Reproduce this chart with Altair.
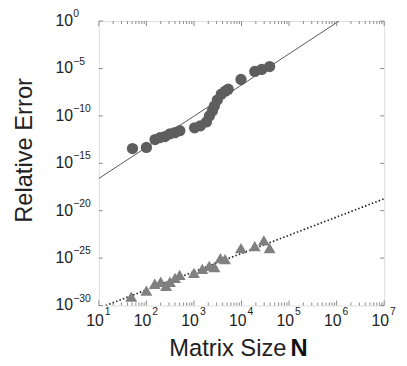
import altair as alt
import pandas as pd

# ---- data ----
circle_N = [51, 100, 152, 194, 246, 313, 397, 504, 1030, 1370, 1830, 2110, 2440, 2690,
            3100, 3750, 4540, 5250, 9750, 19000, 26600, 39000]
circle_err = [3.6e-14, 4.7e-14, 3.2e-13, 5.1e-13, 6.5e-13, 1.3e-12, 1.7e-12, 2.75e-12,
              5.6e-12, 9.1e-12, 2.3e-11, 1.0e-10, 3.3e-10, 1.1e-9, 4.7e-9, 1.95e-8,
              4.0e-8, 6.5e-8, 7.1e-7, 4.9e-6, 7.9e-6, 1.6e-5]
tri_N = [48, 100, 150, 200, 260, 312, 400, 500, 1000, 1500, 2100, 2700, 3600, 4500,
         9750, 19000, 29500, 39000]
tri_err = [8.7e-30, 3.6e-29, 1.95e-28, 3.2e-28, 1.2e-28, 3.2e-28, 8.3e-28, 1.7e-27,
           2.75e-27, 7.1e-27, 1.5e-26, 1.15e-26, 1.0e-25, 7.9e-26, 1.1e-24, 1.8e-24,
           7.4e-24, 1.1e-24]
solid_fit_N = [10, 1.12e6]
solid_fit_err = [2.5e-17, 1.0]
dotted_fit_N = [14, 1e7]
dotted_fit_err = [1e-30, 1.8e-19]

x_tick_vals = [1e1, 1e2, 1e3, 1e4, 1e5, 1e6, 1e7]
x_tick_exps = ["1", "2", "3", "4", "5", "6", "7"]
y_tick_vals = [1.0, 1e-5, 1e-10, 1e-15, 1e-20, 1e-25, 1e-30]
y_tick_exps = ["0", "\u22125", "\u221210", "\u221215", "\u221220", "\u221225", "\u221230"]
x_minor = [k * 10 ** d for d in range(1, 7) for k in range(2, 10)]

W, H = 289, 288
FONT = "Liberation Sans"
xs = alt.Scale(type="log", domain=[10, 1e7], nice=False)
ys = alt.Scale(type="log", domain=[1e-30, 1], nice=False)

pts_c = pd.DataFrame({"N": circle_N, "err": circle_err})
pts_t = pd.DataFrame({"N": tri_N, "err": tri_err})
fit_s = pd.DataFrame({"N": solid_fit_N, "err": solid_fit_err})
fit_d = pd.DataFrame({"N": dotted_fit_N, "err": dotted_fit_err})
xt = pd.DataFrame({"v": x_tick_vals, "e": x_tick_exps})
yt = pd.DataFrame({"v": y_tick_vals, "e": y_tick_exps})
xm = pd.DataFrame({"v": x_minor})

X = lambda f: alt.X(f, type="quantitative", scale=xs, axis=None)
Y_grid = lambda f: alt.Y(f, type="quantitative", scale=ys,
                         axis=alt.Axis(values=y_tick_vals[1:-1], grid=True, labels=False,
                                       ticks=False, domain=False, title=None,
                                       gridColor="#c4c4c4", gridDash=[1, 2], gridWidth=1))
Y = lambda f: alt.Y(f, type="quantitative", scale=ys, axis=None)

solid = alt.Chart(fit_s).mark_line(clip=True, color="#444444", strokeWidth=0.9).encode(
    x=X("N"), y=Y_grid("err"))
dotted = alt.Chart(fit_d).mark_line(clip=True, color="#222222", strokeWidth=1.7,
                                     strokeDash=[1.5, 2.2]).encode(x=X("N"), y=Y("err"))
circles = alt.Chart(pts_c).mark_point(shape="circle", filled=True, size=130, opacity=1,
                                      color="#5e5e5e").encode(x=X("N"), y=Y("err"))
tris = alt.Chart(pts_t).mark_point(shape="triangle-up", filled=True, size=145, opacity=1,
                                   color="#808080").encode(x=X("N"), y=Y("err"))

tick_col = "#888888"
xmaj_b = alt.Chart(xt).mark_rule(color=tick_col).encode(
    x=X("v"), y=alt.value(H), y2=alt.value(H - 5))
xmaj_t = alt.Chart(xt).mark_rule(color=tick_col).encode(
    x=X("v"), y=alt.value(0), y2=alt.value(5))
xmin_b = alt.Chart(xm).mark_rule(color=tick_col).encode(
    x=X("v"), y=alt.value(H), y2=alt.value(H - 3))
xmin_t = alt.Chart(xm).mark_rule(color=tick_col).encode(
    x=X("v"), y=alt.value(0), y2=alt.value(3))
ymaj_l = alt.Chart(yt).mark_rule(color=tick_col).encode(
    y=Y("v"), x=alt.value(0), x2=alt.value(4))
ymaj_r = alt.Chart(yt).mark_rule(color=tick_col).encode(
    y=Y("v"), x=alt.value(W), x2=alt.value(W - 4))

xlab_base = alt.Chart(xt).mark_text(font=FONT, fontSize=16, align="right", baseline="middle",
                                    dx=5, color="#222222").encode(
    x=X("v"), y=alt.value(H + 16), text=alt.value("10"))
xlab_exp = alt.Chart(xt).mark_text(font=FONT, fontSize=10.5, align="left", baseline="middle",
                                   dx=6, color="#222222").encode(
    x=X("v"), y=alt.value(H + 7), text="e:N")
ylab_base = alt.Chart(yt).mark_text(font=FONT, fontSize=16, align="left", baseline="middle",
                                    color="#222222").encode(
    y=Y("v"), x=alt.value(-44), text=alt.value("10"))
ylab_exp = alt.Chart(yt).mark_text(font=FONT, fontSize=10.5, align="left", baseline="middle",
                                   dy=-7, color="#222222").encode(
    y=Y("v"), x=alt.value(-26), text="e:N")

xtitle = alt.Chart(pd.DataFrame({"t": ["Matrix Size"]})).mark_text(
    font=FONT, fontSize=24, align="right", baseline="alphabetic", color="#222222").encode(
    x=alt.value(190), y=alt.value(339), text="t:N")
xtitle_n = alt.Chart(pd.DataFrame({"t": ["N"]})).mark_text(
    font=FONT, fontSize=24, fontWeight="bold", align="left", baseline="alphabetic",
    color="#111111").encode(x=alt.value(194), y=alt.value(339), text="t:N")
ytitle = alt.Chart(pd.DataFrame({"t": ["Relative Error"]})).mark_text(
    font=FONT, fontSize=24, align="center", baseline="middle", angle=270,
    color="#222222").encode(x=alt.value(-75), y=alt.value(131), text="t:N")

chart = alt.layer(
    solid, dotted, circles, tris,
    xmaj_b, xmaj_t, xmin_b, xmin_t, ymaj_l, ymaj_r,
    xlab_base, xlab_exp, ylab_base, ylab_exp, xtitle, xtitle_n, ytitle,
).properties(
    width=W, height=H,
    autosize=alt.AutoSizeParams(type="none"),
    padding={"left": 92, "top": 11, "right": 15, "bottom": 58},
).configure_view(stroke="#8c8c8c", strokeWidth=1).configure(background="white")

chart.save("out.html", embed_options={"renderer": "svg", "actions": False})
